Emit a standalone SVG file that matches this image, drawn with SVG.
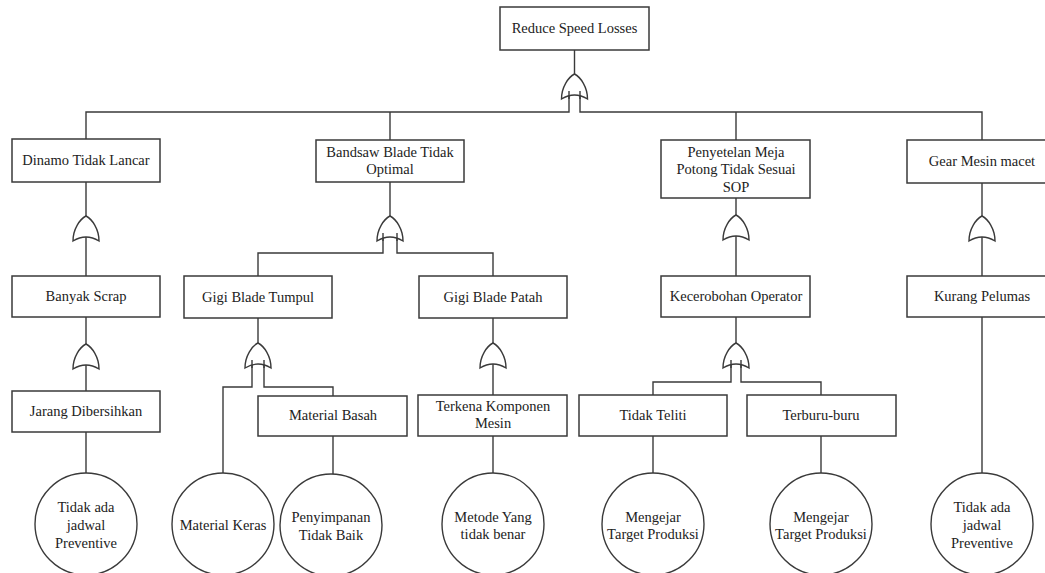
<svg xmlns="http://www.w3.org/2000/svg" xmlns:xlink="http://www.w3.org/1999/xlink" width="1045" height="573" viewBox="0 0 1045 573">
<style>
.box{fill:#fff;stroke:#3a3a3a;stroke-width:1.5}
.ev{fill:#fff;stroke:#3a3a3a;stroke-width:1.4}
.ln{fill:none;stroke:#3a3a3a;stroke-width:1.4}
.gate{fill:#fff;stroke:#3a3a3a;stroke-width:1.4}
.t{font-family:'Liberation Serif','DejaVu Serif',serif;font-size:14.5px;fill:#222;text-anchor:middle}
</style>
<defs>
<path id="or" d="M-13,25 C-13,13 -6,3 0,0 C6,3 13,13 13,25 Q0,17 -13,25 Z"/>
</defs>
<rect width="1045" height="573" fill="#fff"/>
<g id="connectors">
<path class="ln" d="M574.5,50V74"/>
<path class="ln" d="M569,95V112H86V139"/>
<path class="ln" d="M580,95V112H982V140"/>
<path class="ln" d="M390,112V140"/>
<path class="ln" d="M736,112V140"/>
<path class="ln" d="M86,182V216M86,237V276"/>
<path class="ln" d="M86,317V344M86,365V391"/>
<path class="ln" d="M86,432V473"/>
<path class="ln" d="M390,182V216"/>
<path class="ln" d="M383,237V253H258V276"/>
<path class="ln" d="M397,237V253H493V276"/>
<path class="ln" d="M258,318V343"/>
<path class="ln" d="M252,364V387H223V473"/>
<path class="ln" d="M264,364V387H333V396"/>
<path class="ln" d="M333,436V474"/>
<path class="ln" d="M493,318V343M493,364V395"/>
<path class="ln" d="M493,436V473"/>
<path class="ln" d="M736,198V215M736,236V276"/>
<path class="ln" d="M736,317V343"/>
<path class="ln" d="M731,364V382H653V395"/>
<path class="ln" d="M741,364V382H821V395"/>
<path class="ln" d="M653,436V473"/>
<path class="ln" d="M821,436V473"/>
<path class="ln" d="M982,183V216M982,237V276"/>
<path class="ln" d="M982,317V473"/>
</g>
<g id="gates">
<use href="#or" xlink:href="#or" class="gate" x="574.5" y="74"/>
<use href="#or" xlink:href="#or" class="gate" x="86" y="216"/>
<use href="#or" xlink:href="#or" class="gate" x="86" y="344"/>
<use href="#or" xlink:href="#or" class="gate" x="390" y="216"/>
<use href="#or" xlink:href="#or" class="gate" x="258" y="343"/>
<use href="#or" xlink:href="#or" class="gate" x="493" y="343"/>
<use href="#or" xlink:href="#or" class="gate" x="736" y="215"/>
<use href="#or" xlink:href="#or" class="gate" x="736" y="343"/>
<use href="#or" xlink:href="#or" class="gate" x="982" y="216"/>
<path class="ln" d="M569,91V99M580,91V99"/>
<path class="ln" d="M383,233V241M397,233V241"/>
<path class="ln" d="M252,360V368M264,360V368"/>
<path class="ln" d="M731,360V368M741,360V368"/>
</g>
<g id="n-top"><rect class="box" x="500" y="7" width="149" height="43"/><text class="t" x="574.5" y="33">Reduce Speed Losses</text></g>
<g id="n-dinamo"><rect class="box" x="12" y="139" width="148" height="43"/><text class="t" x="86" y="165">Dinamo Tidak Lancar</text></g>
<g id="n-bandsaw"><rect class="box" x="316" y="140" width="148" height="42"/><text class="t" x="390" y="156.5">Bandsaw Blade Tidak</text><text class="t" x="390" y="174">Optimal</text></g>
<g id="n-penyetelan"><rect class="box" x="661" y="140" width="149" height="58"/><text class="t" x="736" y="156.5">Penyetelan Meja</text><text class="t" x="736" y="174">Potong Tidak Sesuai</text><text class="t" x="736" y="191.5">SOP</text></g>
<g id="n-gear"><rect class="box" x="907" y="140" width="150" height="43"/><text class="t" x="982" y="166">Gear Mesin macet</text></g>
<g id="n-banyak"><rect class="box" x="12" y="276" width="148" height="41"/><text class="t" x="86" y="301">Banyak Scrap</text></g>
<g id="n-tumpul"><rect class="box" x="184" y="276" width="148" height="42"/><text class="t" x="258" y="302">Gigi Blade Tumpul</text></g>
<g id="n-patah"><rect class="box" x="419" y="276" width="148" height="42"/><text class="t" x="493" y="302">Gigi Blade Patah</text></g>
<g id="n-kecerobohan"><rect class="box" x="661" y="276" width="149" height="41"/><text class="t" x="736" y="301">Kecerobohan Operator</text></g>
<g id="n-kurang"><rect class="box" x="907" y="276" width="150" height="41"/><text class="t" x="982" y="301">Kurang Pelumas</text></g>
<g id="n-jarang"><rect class="box" x="12" y="391" width="148" height="41"/><text class="t" x="86" y="416">Jarang Dibersihkan</text></g>
<g id="n-basah"><rect class="box" x="258" y="396" width="149" height="40"/><text class="t" x="333" y="420">Material Basah</text></g>
<g id="n-terkena"><rect class="box" x="418" y="395" width="149" height="41"/><text class="t" x="493" y="411">Terkena Komponen</text><text class="t" x="493" y="428">Mesin</text></g>
<g id="n-teliti"><rect class="box" x="579" y="395" width="148" height="41"/><text class="t" x="653" y="420">Tidak Teliti</text></g>
<g id="n-terburu"><rect class="box" x="747" y="395" width="149" height="41"/><text class="t" x="821" y="420">Terburu-buru</text></g>
<g id="e-jadwal1"><circle class="ev" cx="86" cy="524" r="51"/><text class="t" x="86" y="511.5">Tidak ada</text><text class="t" x="86" y="529.5">jadwal</text><text class="t" x="86" y="547.5">Preventive</text></g>
<g id="e-keras"><circle class="ev" cx="223" cy="524" r="51"/><text class="t" x="223" y="529.5">Material Keras</text></g>
<g id="e-penyimpanan"><circle class="ev" cx="331" cy="525" r="51"/><text class="t" x="331" y="521.5">Penyimpanan</text><text class="t" x="331" y="539.5">Tidak Baik</text></g>
<g id="e-metode"><circle class="ev" cx="493" cy="524" r="51"/><text class="t" x="493" y="521.5">Metode Yang</text><text class="t" x="493" y="538.5">tidak benar</text></g>
<g id="e-mengejar1"><circle class="ev" cx="653" cy="524" r="51"/><text class="t" x="653" y="521.5">Mengejar</text><text class="t" x="653" y="538.5">Target Produksi</text></g>
<g id="e-mengejar2"><circle class="ev" cx="821" cy="524" r="51"/><text class="t" x="821" y="521.5">Mengejar</text><text class="t" x="821" y="538.5">Target Produksi</text></g>
<g id="e-jadwal2"><circle class="ev" cx="982" cy="524" r="51"/><text class="t" x="982" y="511.5">Tidak ada</text><text class="t" x="982" y="529.5">jadwal</text><text class="t" x="982" y="547.5">Preventive</text></g>
</svg>
